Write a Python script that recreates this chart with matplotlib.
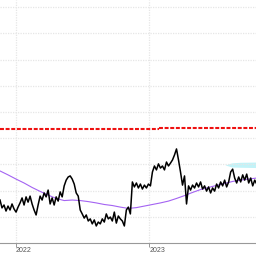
import matplotlib
matplotlib.use('Agg')
import matplotlib.pyplot as plt
import matplotlib.dates as mdates
import pandas as pd

# price series, one sample every 5.5 days starting mid Nov 2021
price_start = '2021-11-18'
price = [
    36.4, 33.4, 34.5, 32.2, 34.1, 32.6, 34.9, 33.0, 31.8, 33.7,
    35.3, 37.2, 34.5, 37.6, 35.6, 37.9, 34.9, 32.6, 30.7, 34.5,
    37.9, 36.4, 39.1, 37.6, 40.2, 34.9, 37.2, 34.5, 37.6, 36.0,
    39.5, 37.6, 41.8, 44.0, 45.2, 45.6, 44.4, 42.5, 39.1, 37.9,
    32.6, 31.1, 29.5, 30.7, 28.4, 29.2, 27.3, 28.8, 26.5, 28.0,
    27.3, 29.2, 28.0, 31.1, 29.2, 29.9, 28.4, 31.8, 27.6, 30.3,
    29.2, 28.4, 26.5, 32.6, 33.7, 31.1, 43.3, 41.4, 42.9, 41.0,
    42.5, 40.6, 42.1, 41.0, 42.5, 41.8, 47.1, 49.4, 47.9, 50.2,
    48.6, 49.4, 47.9, 50.9, 49.4, 50.5, 51.7, 53.6, 55.9, 51.7,
    47.1, 42.1, 45.6, 34.9, 41.8, 40.2, 42.1, 41.0, 42.9, 41.4,
    43.3, 40.6, 41.8, 39.8, 41.4, 39.1, 41.0, 39.8, 42.5, 41.0,
    43.3, 41.8, 44.0, 41.4, 43.3, 47.1, 48.2, 44.8, 42.9, 45.2,
    43.3, 46.0, 44.0, 46.3, 42.9, 44.8, 41.8, 44.0, 42.5,
]

# moving average, one sample every 22 days
ma = [
    47.5, 46.0, 44.4, 42.9, 41.2, 39.7, 38.3, 37.0, 36.2, 36.4,
    36.2, 35.8, 35.3, 34.7, 34.3, 33.7, 33.2, 33.5, 34.1, 34.7,
    35.3, 36.0, 37.0, 38.1, 39.3, 40.4, 41.2, 42.0, 42.7, 43.5,
    44.0, 44.4, 44.8,
]

# red resistance level (steps up once)
level_dates = ['2021-11-18', '2023-01-29', '2023-10-23']
levels = [63.4, 63.8]

# cyan cloud at the right edge
band_dates = ['2023-07-28', '2023-08-16', '2023-09-07', '2023-10-23']
band_top = [49.8, 50.6, 50.8, 50.9]
band_bot = [49.8, 49.0, 48.9, 48.8]

price_dates = pd.date_range(price_start, periods=len(price), freq='132h')
ma_dates = pd.date_range(price_start, periods=len(ma), freq='528h')

fig = plt.figure(figsize=(2.56, 2.56), dpi=100)
ax = fig.add_axes([0, 13 / 256, 1, 243 / 256])

ax.fill_between(pd.to_datetime(band_dates), band_bot, band_top,
                color='#c2f3f8', lw=0, zorder=1)
ax.plot(ma_dates, ma, color='#a463f2', lw=0.8, zorder=3)
ax.plot(price_dates, price, color='black', lw=1.1, zorder=4)

ld = pd.to_datetime(level_dates)
for i, lv in enumerate(levels):
    ax.plot([ld[i], ld[i + 1]], [lv, lv], color='#ee1111', lw=1.5,
            dashes=(1.9, 0.8), zorder=5)

ax.set_xlim(pd.Timestamp('2021-11-18'), pd.Timestamp('2023-10-21'))
ax.set_ylim(20, 20 + 243 / 2.62)

ax.set_yticks(range(30, 120, 10))
ax.tick_params(axis='y', left=False, labelleft=False)
ax.xaxis.set_major_locator(mdates.YearLocator())
ax.xaxis.set_major_formatter(mdates.DateFormatter('%Y'))
ax.tick_params(axis='x', direction='out', length=3.2, width=0.6,
               color='#888888', labelcolor='#555555', labelsize=5, pad=0)
for lab in ax.get_xticklabels():
    lab.set_ha('left')
    lab.set_family('Liberation Sans')

ax.grid(True, color='#e6e6e6', lw=0.9, linestyle=(0, (1, 1)), zorder=0)
for side in ['top', 'left', 'right']:
    ax.spines[side].set_visible(False)
ax.spines['bottom'].set_color('#999999')
ax.spines['bottom'].set_linewidth(0.8)

fig.savefig('out.png', dpi=100)
